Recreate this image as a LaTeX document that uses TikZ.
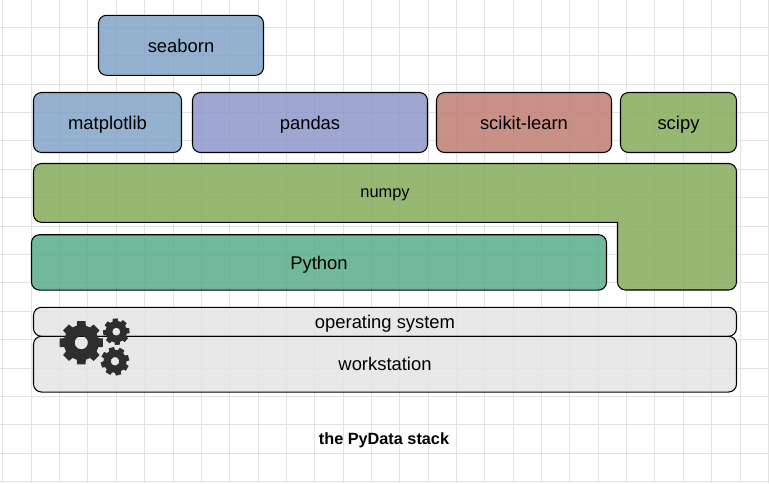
\documentclass[tikz,border=0pt]{standalone}
\usepackage{fontspec}
\setmainfont{Liberation Sans}
\usepackage{tikz}
\usetikzlibrary{positioning}
\definecolor{bluefill}{RGB}{129,164,199}
\definecolor{violetfill}{RGB}{141,150,201}
\definecolor{redfill}{RGB}{191,125,115}
\definecolor{greenfill}{RGB}{133,172,90}
\definecolor{tealfill}{RGB}{88,173,134}
\definecolor{grayfill}{RGB}{228,228,228}
\definecolor{gridline}{RGB}{226,226,226}
\definecolor{gearfill}{RGB}{46,46,46}
\tikzset{
  layer/.style={draw=black,line width=0.8pt,rounded corners=6pt,fill opacity=0.85,text opacity=1,
    outer sep=0pt,inner sep=0pt,font=\fontsize{13.8pt}{16pt}\selectfont,text height=1.02em,text depth=0em},
  gridrule/.style={draw=gridline,line width=0.75pt},
  gearicon/.pic={
    \fill[gearfill,even odd rule] (-19:0.8)
      \foreach \a in {0,45,...,315}{
        -- (\a-15:0.8) -- (\a-11:1) -- (\a+11:1) -- (\a+15:0.8) -- (\a+30:0.8)
      } -- cycle (0,0) circle (0.3);
  }
}
\begin{document}
\begin{tikzpicture}[x=0.75pt,y=-0.75pt]
\useasboundingbox (0,0) rectangle (769,483);
\foreach \i in {0,...,27} {
  \pgfmathsetmacro{\gx}{floor(2.9+28.35*\i)+0.5}
  \draw[gridrule] (\gx,0) -- (\gx,483);
}
\foreach \i in {0,...,16} {
  \pgfmathsetmacro{\gy}{floor(27.3+28.4*\i)+0.5}
  \draw[gridrule] (0,\gy) -- (769,\gy);
}

\node[layer,fill=bluefill,minimum width=123.75pt,minimum height=45pt] (seaborn) at (181,45.3) {seaborn};
\node[layer,fill=bluefill,minimum width=111pt,minimum height=45pt] (matplotlib) at (107.5,122.5) {matplotlib};
\node[layer,fill=violetfill,minimum width=176.25pt,minimum height=45pt][right=8.25pt of matplotlib] (pandas) {pandas};
\node[layer,fill=redfill,minimum width=131.25pt,minimum height=45pt][right=6.75pt of pandas] (scikit) {scikit-learn};
\node[layer,fill=greenfill,minimum width=87pt,minimum height=45pt][right=6.75pt of scikit] (scipy) {scipy};

\draw[layer,fill=greenfill] (33.5,190) -- (33.5,163.5) -- (736.5,163.5) -- (736.5,290) -- (617.5,290) -- (617.5,250) [sharp corners] -- (617.5,222.3) -- (300,222.3) [rounded corners=6pt] -- (33.5,222.3) -- cycle;
\node[font=\fontsize{12.3pt}{14pt}\selectfont] (numpy) at (385,194.5) {numpy};

\node[layer,fill=tealfill,minimum width=431.25pt,minimum height=41.5pt] (python) at (319,262.4) {Python};
\node[layer,fill=grayfill,minimum width=527.25pt,minimum height=21.75pt] (os) at (385,321.8) {operating system};
\node[layer,fill=grayfill,minimum width=527.25pt,minimum height=41.8pt][below=0pt of os] (workstation) {workstation};

\pic[scale=22] at (81.3,342.7) {gearicon};
\pic[scale=13.4,rotate=5] at (116.3,331.7) {gearicon};
\pic[scale=14.4,rotate=15] at (115,361.3) {gearicon};

\node[font=\bfseries\fontsize{12.2pt}{14pt}\selectfont] (caption) at (384,440.5) {the PyData stack};
\end{tikzpicture}
\end{document}
